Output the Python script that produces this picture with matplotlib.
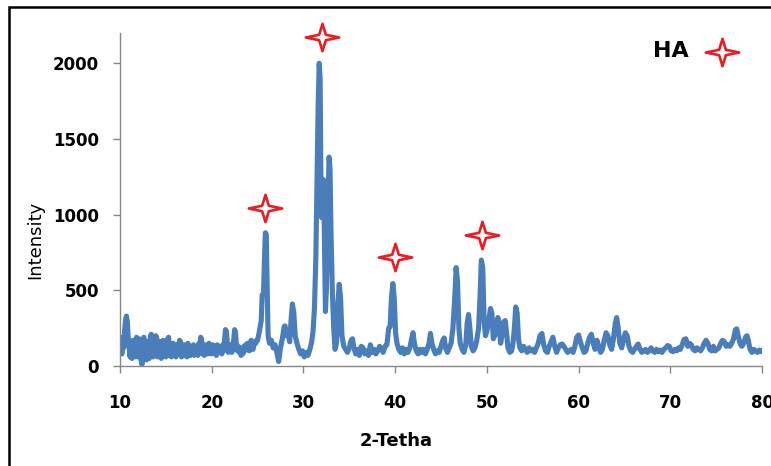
import matplotlib
matplotlib.use("Agg")
import matplotlib.pyplot as plt
from matplotlib.path import Path
from matplotlib.patches import Rectangle

# ---------------- data ----------------
# 10.0 .. 24.9 sampled every 0.1 degree
two_theta_a = [round(10.0 + 0.1 * i, 1) for i in range(150)]
intensity_a = [100, 170, 80, 190, 120, 230, 300, 330, 290, 180,
               120, 60, 150, 50, 170, 90, 160, 60, 190, 100,
               60, 180, 120, 40, 10, 150, 190, 70, 140, 40,
               160, 90, 50, 180, 210, 100, 60, 170, 130, 200,
               190, 60, 140, 90, 160, 50, 120, 170, 80, 150,
               60, 120, 180, 190, 70, 130, 60, 110, 150, 70,
               100, 60, 140, 80, 130, 170, 160, 60, 110, 70,
               140, 90, 120, 60, 150, 80, 130, 70, 120, 90,
               140, 70, 130, 80, 120, 70, 150, 90, 190, 170,
               80, 120, 70, 140, 90, 120, 80, 150, 100, 130,
               80, 140, 90, 130, 100, 70, 140, 110, 130, 90,
               120, 80, 140, 100, 170, 240, 230, 150, 90, 120,
               100, 140, 90, 130, 170, 240, 220, 120, 100, 130,
               90, 120, 70, 110, 80, 130, 100, 140, 110, 150,
               120, 100, 150, 170, 130, 110, 140, 160, 150, 170]

two_theta_b = [25.0, 25.2, 25.4, 25.5, 25.65, 25.75, 25.85, 25.95, 26.05, 26.15,
               26.3, 26.5, 26.7, 26.9, 27.1, 27.3, 27.5, 27.7, 27.9, 28.0,
               28.15, 28.3, 28.5, 28.65, 28.8, 28.95, 29.1, 29.3, 29.5, 29.7,
               29.9, 30.1, 30.3, 30.5, 30.7, 30.9, 31.05, 31.2, 31.35, 31.5,
               31.6, 31.72, 31.82, 31.92, 32.0, 32.1, 32.2, 32.3, 32.4, 32.5,
               32.65, 32.8, 32.9, 33.0, 33.15, 33.3, 33.45, 33.6, 33.75, 33.9,
               34.05, 34.2, 34.4, 34.6, 34.8, 35.0, 35.2, 35.35, 35.5, 35.7,
               35.9, 36.1, 36.3, 36.5, 36.7, 36.9, 37.1, 37.3, 37.5, 37.7,
               37.9, 38.1, 38.3, 38.5, 38.7, 38.9, 39.1, 39.3, 39.45, 39.6,
               39.75, 39.9, 40.05, 40.2, 40.4, 40.6, 40.8, 41.0, 41.2, 41.4,
               41.6, 41.8, 41.95, 42.1, 42.3, 42.5, 42.7, 42.9, 43.1, 43.3,
               43.5, 43.7, 43.85, 44.0, 44.2, 44.4, 44.6, 44.8, 45.0, 45.2,
               45.35, 45.5, 45.7, 45.9, 46.1, 46.3, 46.5, 46.65, 46.8, 46.95,
               47.1, 47.3, 47.5, 47.7, 47.85, 48.0, 48.15, 48.3, 48.5, 48.7,
               48.9, 49.1, 49.25, 49.4, 49.55, 49.7, 49.85, 50.0, 50.2, 50.4,
               50.55, 50.7, 50.85, 51.0, 51.2, 51.35, 51.5, 51.65, 51.8, 52.0,
               52.15, 52.3, 52.5, 52.7, 52.85, 53.0, 53.15, 53.3, 53.45, 53.6,
               53.8, 54.0, 54.2, 54.4, 54.6, 54.8, 55.0, 55.2, 55.4, 55.6,
               55.8, 56.0, 56.2, 56.4, 56.6, 56.8, 57.0, 57.2, 57.4, 57.6,
               57.8, 58.0, 58.2, 58.4, 58.6, 58.8, 59.0, 59.2, 59.4, 59.6,
               59.8, 60.0, 60.2, 60.4, 60.6, 60.8, 61.0, 61.2, 61.4, 61.6,
               61.8, 62.0, 62.2, 62.4, 62.6, 62.8, 63.0, 63.2, 63.4, 63.6,
               63.8, 64.0, 64.15, 64.3, 64.5, 64.7, 64.9, 65.1, 65.3, 65.5,
               65.7, 65.9, 66.1, 66.3, 66.5, 66.7, 66.9, 67.1, 67.3, 67.5,
               67.7, 67.9, 68.1, 68.3, 68.5, 68.7, 68.9, 69.1, 69.3, 69.5,
               69.7, 69.9, 70.1, 70.3, 70.5, 70.7, 70.9, 71.1, 71.3, 71.5,
               71.7, 71.9, 72.1, 72.3, 72.5, 72.7, 72.9, 73.1, 73.3, 73.5,
               73.7, 73.9, 74.1, 74.3, 74.5, 74.7, 74.9, 75.1, 75.3, 75.5,
               75.7, 75.9, 76.1, 76.3, 76.5, 76.7, 76.9, 77.1, 77.25, 77.4,
               77.6, 77.8, 78.0, 78.2, 78.35, 78.5, 78.7, 78.9, 79.1, 79.3,
               79.5, 79.7, 79.9, 80.0]
intensity_b = [170, 230, 300, 470, 480, 700, 880, 870, 500, 200,
               150, 170, 120, 140, 90, 30, 120, 180, 260, 265,
               200, 230, 160, 300, 410, 350, 200, 150, 110, 80,
               100, 60, 90, 70, 110, 160, 230, 380, 700, 1300,
               1700, 2000, 1900, 1100, 980, 1150, 1230, 800, 360, 500,
               1000, 1380, 1300, 900, 500, 250, 110, 150, 400, 540,
               450, 200, 130, 110, 90, 120, 170, 180, 120, 80,
               110, 70, 130, 120, 80, 100, 70, 140, 90, 110,
               80, 100, 130, 110, 90, 130, 140, 250, 260, 450,
               545, 450, 220, 150, 110, 90, 120, 80, 110, 90,
               120, 180, 220, 150, 100, 80, 110, 90, 110, 80,
               110, 150, 215, 150, 110, 80, 100, 90, 130, 170,
               185, 120, 90, 120, 150, 250, 450, 650, 560, 250,
               150, 110, 90, 140, 280, 340, 250, 130, 100, 120,
               170, 250, 450, 700, 650, 300, 200, 230, 300, 380,
               350, 180, 200, 250, 320, 260, 150, 200, 290, 300,
               220, 120, 90, 100, 150, 250, 390, 350, 180, 120,
               100, 130, 110, 90, 120, 100, 110, 90, 120, 150,
               200, 215, 140, 100, 90, 130, 160, 190, 130, 90,
               120, 140, 145, 130, 110, 90, 100, 110, 90, 130,
               190, 205, 160, 120, 90, 100, 150, 190, 210, 150,
               110, 170, 130, 90, 110, 170, 220, 200, 140, 110,
               180, 280, 320, 260, 150, 120, 170, 220, 200, 130,
               100, 90, 110, 130, 145, 110, 90, 100, 110, 90,
               100, 120, 100, 90, 110, 95, 105, 90, 110, 120,
               135, 130, 100, 95, 110, 100, 120, 110, 140, 175,
               180, 130, 150, 140, 110, 100, 120, 110, 100, 120,
               150, 170, 150, 110, 100, 130, 100, 110, 120, 150,
               170, 160, 130, 140, 130, 150, 180, 240, 245, 200,
               150, 130, 150, 190, 200, 170, 110, 90, 110, 100,
               90, 105, 95, 100]

two_theta = two_theta_a + two_theta_b
intensity = intensity_a + intensity_b

x_ticks = [10, 20, 30, 40, 50, 60, 70, 80]
y_ticks = [0, 500, 1000, 1500, 2000]

ha_peak_x = [25.8, 32.0, 40.0, 49.5]
ha_peak_y = [1043, 2172, 721, 865]
legend_label = "HA"
legend_marker_x, legend_marker_y = 75.6, 2073
legend_text_x, legend_text_y = 70.1, 2080

# ---------------- figure ----------------
W, H = 771, 466
fig = plt.figure(figsize=(W / 100, H / 100), dpi=100)
ax = fig.add_axes([120 / W, 1 - 366 / H, 642 / W, 333 / H])

line_color = "#4A7EBB"
star_red = "#ED1C24"
axis_gray = "#868686"

ax.plot(two_theta, intensity, color=line_color, lw=3.7,
        solid_joinstyle="round", solid_capstyle="round", zorder=2)

# four-pointed star marker (slightly wider than tall, as in the reference)
sx = 1.22
star_verts = [(sx, 0), (0.2 * sx, 0.2), (0, 1), (-0.2 * sx, 0.2), (-sx, 0),
              (-0.2 * sx, -0.2), (0, -1), (0.2 * sx, -0.2), (sx, 0)]
star_codes = [Path.MOVETO] + [Path.LINETO] * 7 + [Path.CLOSEPOLY]
star = Path(star_verts, star_codes)

ax.plot(ha_peak_x, ha_peak_y, ls="none", marker=star, ms=24,
        mfc="white", mec=star_red, mew=1.9, zorder=4, clip_on=False)
ax.plot([legend_marker_x], [legend_marker_y], ls="none", marker=star, ms=24,
        mfc="white", mec=star_red, mew=1.9, zorder=4, clip_on=False)
ax.text(legend_text_x, legend_text_y, legend_label, ha="center", va="center",
        fontsize=16, fontweight="bold", family="DejaVu Sans", color="black")

ax.set_xlim(10, 80)
ax.set_ylim(0, 2200)
ax.set_xticks(x_ticks)
ax.set_yticks(y_ticks)
ax.set_xticklabels([str(t) for t in x_ticks])
ax.set_yticklabels([str(t) for t in y_ticks])

for side in ["top", "right"]:
    ax.spines[side].set_visible(False)
for side in ["left", "bottom"]:
    ax.spines[side].set_color(axis_gray)
    ax.spines[side].set_linewidth(1.0)

ax.tick_params(axis="x", direction="out", length=5, width=1, color=axis_gray, pad=15)
ax.tick_params(axis="y", direction="out", length=5, width=1, color=axis_gray, pad=10)
for lbl in ax.get_xticklabels() + ax.get_yticklabels():
    lbl.set_fontfamily("DejaVu Sans")
    lbl.set_fontweight("bold")
    lbl.set_fontsize(12)

# axis titles positioned like the reference
fig.text(396 / W, 1 - 441 / H, "2-Tetha", ha="center", va="center",
         fontsize=13, family="DejaVu Sans", fontweight="semibold")
fig.text(35 / W, 1 - 240 / H, "Intensity", ha="center", va="center",
         rotation=90, fontsize=13, family="DejaVu Sans")

# black frame around the chart area (cropped at right and bottom)
frame = Rectangle((8.5 / W, -0.1), 1.2, 1 - 7 / H + 0.1, transform=fig.transFigure,
                  fill=False, edgecolor="black", lw=1.8, clip_on=False)
fig.patches.append(frame)

fig.savefig("out.png", dpi=100)
